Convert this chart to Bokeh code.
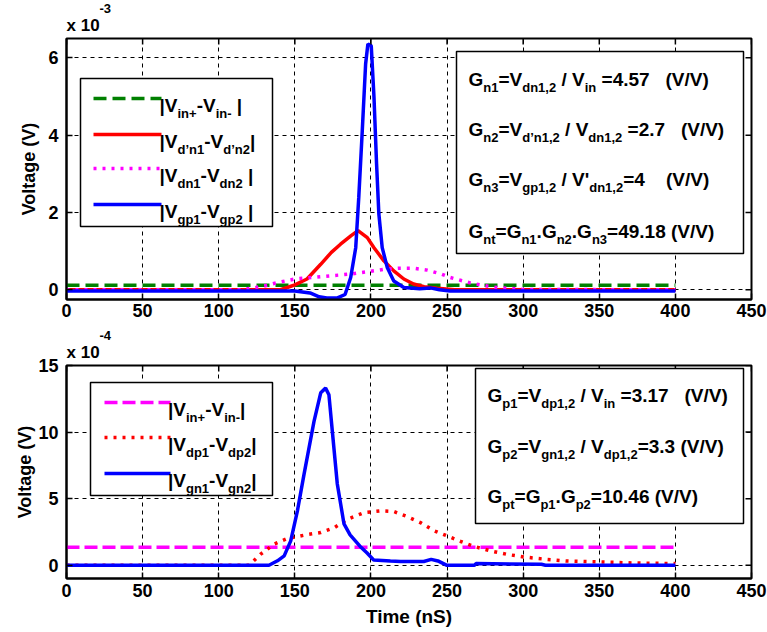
from bokeh.plotting import figure
from bokeh.models import Label, BoxAnnotation, Arrow, FixedTicker, Title
from bokeh.layouts import column
from bokeh.embed import file_html
from bokeh.resources import INLINE

# ---------------- data ----------------
x_ticks = [0, 50, 100, 150, 200, 250, 300, 350, 400, 450]
top_y_ticks = [0, 2, 4, 6]          # x 10^-3 V
bot_y_ticks = [0, 5, 10, 15]        # x 10^-4 V

# top panel (values in units of 1e-3 V)
t_in_top = [0, 400]
v_in_top = [0.12, 0.12]

t_dpn_top = [0, 140, 145, 150, 158, 167, 174, 180, 187, 191.5, 197.6, 202, 208.5, 215,
             221.6, 228, 235, 243.5, 255, 400]
v_dpn_top = [0, 0, 0.06, 0.13, 0.28, 0.66, 0.97, 1.18, 1.40, 1.53, 1.35, 1.09, 0.75, 0.49,
             0.28, 0.15, 0.08, 0.04, 0.0, 0.0]

t_dn_top = [0, 115, 123, 130, 139, 150, 167, 187, 198, 208.5, 219, 228, 237, 246, 252,
            265, 280, 300, 400]
v_dn_top = [0, 0, 0.05, 0.1, 0.19, 0.28, 0.34, 0.41, 0.47, 0.53, 0.56, 0.56, 0.51, 0.41,
            0.32, 0.18, 0.07, 0.01, 0]

t_gp_top = [0, 150, 160, 166, 171, 178, 183, 186.7, 190, 192, 194.3, 196.5, 198, 200.2,
            202, 203.7, 205.2, 207.4, 210.7, 215, 221.6, 232, 239, 245, 252, 400]
v_gp_top = [-0.03, -0.03, -0.08, -0.18, -0.21, -0.21, -0.12, 0.32, 1.09, 2.39, 4.11, 5.84,
            6.36, 6.31, 4.98, 3.25, 1.96, 1.09, 0.58, 0.23, 0.06, 0.03, 0.05, 0.0, -0.03, -0.03]

# bottom panel (values in units of 1e-4 V)
t_in_bot = [0, 400]
v_in_bot = [1.35, 1.35]

t_dp_bot = [0, 120, 127.6, 136.4, 145, 158.2, 167, 175.7, 184.5, 195.4, 206.3, 215, 223.8,
            232.5, 241.2, 250, 259, 268, 279, 290, 301, 315, 328, 341, 357, 372, 400]
v_dp_bot = [0, 0, 0.83, 1.58, 2.0, 2.3, 2.45, 2.8, 3.45, 3.95, 4.08, 4.03, 3.65,
            3.2, 2.6, 2.2, 1.78, 1.4, 1.06, 0.8, 0.61, 0.44, 0.32, 0.27, 0.22, 0.17, 0.12]

t_gn_bot = [0, 133, 138.6, 143, 147.3, 151.7, 156, 162.6, 167, 170.2, 172.4, 174.6, 177.9,
            182.3, 186.3, 192.9, 197.3, 201.8, 212.8, 219.4, 234.7, 239.6, 244, 249.6, 268,
            269, 312, 314.6, 400]
v_gn_bot = [0, 0, 0.33, 0.7, 1.83, 4.08, 6.8, 10.8, 12.95, 13.3, 12.8, 10.1, 6.1,
            3.1, 2.27, 1.41, 0.93, 0.39, 0.32, 0.28, 0.28, 0.44, 0.32, 0, 0,
            0.12, 0.07, 0, 0]

# ---------------- layout constants ----------------
FONT = "Liberation Sans"
W, LEFT, RIGHT = 767, 66, 16
FW = W - LEFT - RIGHT
H1, H2 = 328, 304
TOP_Y = (-0.25, 6.5)
BOT_Y = (-1.0, 15)
TICK = 6

GREEN, RED, MAG, BLUE = "#008000", "#ff0000", "#ff00ff", "#0000ff"

# Arial/Liberation Sans Bold advance widths (1/1000 em)
ADV = {' ': 278, "'": 238, '’': 278, '(': 333, ')': 333, '+': 584, ',': 278, '-': 333,
       '.': 278, '/': 278, '=': 584, 'G': 778, 'V': 667, 'a': 556, 'd': 611, 'g': 611,
       'i': 278, 'n': 611, 'p': 611, 't': 333, 'x': 556, '|': 280}


def tw(s, size):
    return sum(ADV.get(c, 556) for c in s) * size / 1000.0


def make_fig(height, yr, yticks, b_top, b_bot, xlabel, ylab_standoff, exponent, xl_standoff):
    p = figure(width=W, height=height, x_range=(0, 450), y_range=yr, title=None,
               output_backend="svg", toolbar_location=None,
               min_border_left=LEFT, min_border_right=RIGHT,
               min_border_top=b_top, min_border_bottom=b_bot,
               background_fill_color="white", border_fill_color="white")
    p.outline_line_color = "black"
    p.outline_line_width = 2
    for ax, ticks in ((p.xaxis[0], x_ticks), (p.yaxis[0], yticks)):
        ax.ticker = FixedTicker(ticks=ticks)
        ax.major_tick_in = TICK
        ax.major_tick_out = 0
        ax.minor_tick_line_color = None
        ax.axis_line_width = 2
        ax.major_tick_line_width = 1.5
        ax.major_label_text_font = FONT
        ax.major_label_text_font_style = "bold"
        ax.major_label_text_font_size = "18px"
        ax.major_label_text_color = "black"
        ax.axis_label_text_font = FONT
        ax.axis_label_text_font_style = "bold"
        ax.axis_label_text_font_size = "18px"
        ax.axis_label_text_color = "black"
    p.xaxis.major_label_standoff = xl_standoff
    p.yaxis.major_label_standoff = 8
    p.yaxis.axis_label = "Voltage (V)"
    p.yaxis.axis_label_standoff = ylab_standoff
    if xlabel:
        p.xaxis.axis_label = xlabel
        p.xaxis.axis_label_text_font_size = "19px"
        p.xaxis.axis_label_standoff = 6
    p.grid.grid_line_color = "black"
    p.grid.grid_line_dash = "4 4"
    p.grid.grid_line_width = 1
    p.grid.grid_line_alpha = 1
    # axis multiplier "x 10^n" above the frame
    p.add_layout(Title(text="x 10", align="left", offset=0, standoff=8, text_font=FONT,
                       text_font_style="bold", text_font_size="17px",
                       text_color="black"), "above")
    p.add_layout(Title(text=exponent, align="left", offset=33, standoff=-6, text_font=FONT,
                       text_font_style="bold", text_font_size="13px",
                       text_color="black"), "above")
    return p


class Panel:
    def __init__(self, p, frame_top_page, frame_h, yr, yticks):
        self.p, self.t, self.h, self.yr = p, frame_top_page, frame_h, yr
        # inward tick marks on the top and right edges of the box
        y0, y1 = yr
        dy = TICK / frame_h * (y1 - y0)
        dx = TICK / FW * 450.0
        p.segment(x0=x_ticks, x1=x_ticks, y0=[y1] * len(x_ticks),
                  y1=[y1 - dy] * len(x_ticks), line_color="black", line_width=1.5)
        p.segment(x0=[450] * len(yticks), x1=[450 - dx] * len(yticks), y0=yticks,
                  y1=yticks, line_color="black", line_width=1.5)

    def x(self, px):
        return (px - LEFT) / FW * 450.0

    def y(self, py):
        y0, y1 = self.yr
        return y1 - (py - self.t) / self.h * (y1 - y0)

    def box(self, l, r, t, b):
        self.p.add_layout(BoxAnnotation(left=self.x(l), right=self.x(r), top=self.y(t),
                                        bottom=self.y(b), fill_color="white", fill_alpha=1,
                                        line_color="black", line_width=1.5, line_alpha=1))

    def sample(self, x0, x1, py, color, dash):
        self.p.add_layout(Arrow(end=None, x_start=self.x(x0), x_end=self.x(x1),
                                y_start=self.y(py), y_end=self.y(py), line_color=color,
                                line_width=3.5, line_dash=dash))

    def rich(self, x0, base, segs, main=19, sub=13):
        x = x0
        for text, kind in segs:
            size = main if kind == "m" else sub
            dy = 0 if kind == "m" else 8
            body = text.lstrip(" ")
            lead = tw(text[:len(text) - len(body)], size)
            if body.strip():
                self.p.add_layout(Label(x=self.x(x + lead), y=self.y(base + dy), text=body,
                                        text_font=FONT, text_font_style="bold",
                                        text_font_size=f"{size}px", text_color="black",
                                        text_align="left", text_baseline="alphabetic"))
            x += tw(text, size)


# ---------------- top panel ----------------
p1 = make_fig(H1, TOP_Y, top_y_ticks, 38, 29, None, 6, "-3", 4)
p1.line(t_in_top, v_in_top, line_color=GREEN, line_width=3.5, line_dash="13 6")
p1.line(t_dpn_top, v_dpn_top, line_color=RED, line_width=3.5)
p1.line(t_dn_top, v_dn_top, line_color=MAG, line_width=3.5, line_dash="3 6")
p1.line(t_gp_top, v_gp_top, line_color=BLUE, line_width=3.5)

T = Panel(p1, 38, 261, TOP_Y, top_y_ticks)
T.box(80, 272, 78, 226)
rows_top = [
    (98, GREEN, "13 6", [("|V", "m"), ("in+", "s"), ("-V", "m"), ("in-", "s"), (" |", "m")]),
    (134, RED, "solid", [("|V", "m"), ("d’n1", "s"), ("-V", "m"), ("d’n2", "s"), ("|", "m")]),
    (168, MAG, "3 6", [("|V", "m"), ("dn1", "s"), ("-V", "m"), ("dn2", "s"), (" |", "m")]),
    (204, BLUE, "solid", [("|V", "m"), ("gp1", "s"), ("-V", "m"), ("gp2", "s"), (" |", "m")]),
]
for py, col, dash, segs in rows_top:
    T.sample(93, 161, py, col, dash)
    T.rich(159, py + 7, segs)

T.box(456, 743, 51, 253)
T.rich(468, 79, [("G", "m"), ("n1", "s"), ("=V", "m"), ("dn1,2", "s"), (" / V", "m"),
                 ("in", "s"), (" =4.57", "m"), ("   (V/V)", "m")])
T.rich(468, 129, [("G", "m"), ("n2", "s"), ("=V", "m"), ("d’n1,2", "s"), (" / V", "m"),
                  ("dn1,2", "s"), (" =2.7", "m"), ("   (V/V)", "m")])
T.rich(468, 179, [("G", "m"), ("n3", "s"), ("=V", "m"), ("gp1,2", "s"), (" / V'", "m"),
                  ("dn1,2", "s"), ("=4", "m"), ("    (V/V)", "m")])
T.rich(468, 231, [("G", "m"), ("nt", "s"), ("=G", "m"), ("n1", "s"), (".G", "m"),
                  ("n2", "s"), (".G", "m"), ("n3", "s"), ("=49.18 (V/V)", "m")])

# ---------------- bottom panel ----------------
p2 = make_fig(H2, BOT_Y, bot_y_ticks, 37, 54, "Time (nS)", 0, "-4", 5)
p2.line(t_in_bot, v_in_bot, line_color=MAG, line_width=3.5, line_dash="13 5")
p2.line(t_dp_bot, v_dp_bot, line_color=RED, line_width=3.5, line_dash="3 6")
p2.line(t_gn_bot, v_gn_bot, line_color=BLUE, line_width=3.5)

B = Panel(p2, 365, 213, BOT_Y, bot_y_ticks)
B.box(90, 272, 382, 495)
rows_bot = [
    (402, MAG, "13 5", [("|V", "m"), ("in+", "s"), ("-V", "m"), ("in-", "s"), ("|", "m")]),
    (437, RED, "3 6", [("|V", "m"), ("dp1", "s"), ("-V", "m"), ("dp2", "s"), ("|", "m")]),
    (473, BLUE, "solid", [("|V", "m"), ("gn1", "s"), ("-V", "m"), ("gn2", "s"), ("|", "m")]),
]
for py, col, dash, segs in rows_bot:
    B.sample(104, 170, py, col, dash)
    B.rich(167.5, py + 7, segs)

B.box(475, 743, 368, 523)
B.rich(487, 395, [("G", "m"), ("p1", "s"), ("=V", "m"), ("dp1,2", "s"), (" / V", "m"),
                  ("in", "s"), (" =3.17", "m"), ("   (V/V)", "m")])
B.rich(487, 446, [("G", "m"), ("p2", "s"), ("=V", "m"), ("gn1,2", "s"), (" / V", "m"),
                  ("dp1,2", "s"), ("=3.3 (V/V)", "m")])
B.rich(487, 496, [("G", "m"), ("pt", "s"), ("=G", "m"), ("p1", "s"), (".G", "m"),
                  ("p2", "s"), ("=10.46 (V/V)", "m")])

layout = column(p1, p2)
open("out.html", "w").write(file_html(layout, INLINE))
